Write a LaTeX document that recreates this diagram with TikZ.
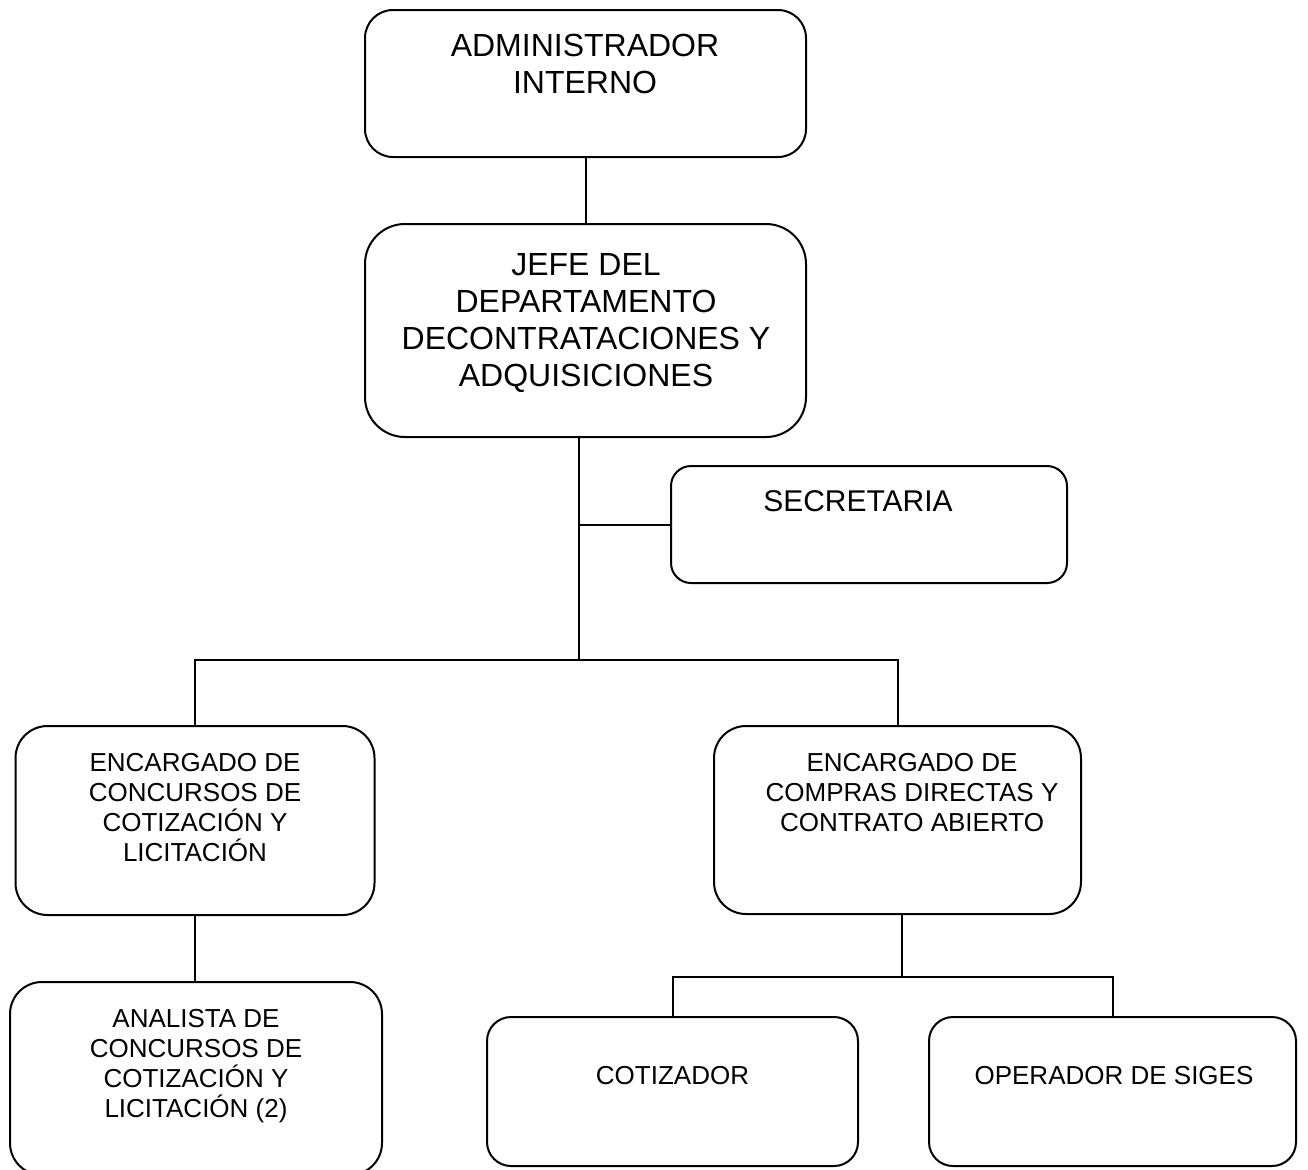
\documentclass[tikz,border=0pt]{standalone}
\usepackage{fontspec}
\setmainfont{Liberation Sans}
\begin{document}
\begin{tikzpicture}[x=0.5pt,y=-0.5pt,line width=1pt,
  box/.style={draw,inner sep=0pt},
  bigtxt/.style={font=\fontsize{16}{18.5}\selectfont,align=center,anchor=north,inner sep=0pt},
  smalltxt/.style={font=\fontsize{13}{15}\selectfont,align=center,anchor=north,inner sep=0pt}]
   \useasboundingbox (0,0) rectangle (1308,1169);
   % boxes
   \node[box,rounded corners=14pt,minimum width=220.5pt,minimum height=73.5pt] (admin) at (585.5,83.5) {};
   \node[bigtxt] (admintxt) at (585,33) {ADMINISTRADOR\\INTERNO};
   \node[box,rounded corners=20pt,minimum width=220.5pt,minimum height=106.5pt] (jefe) at (585.5,330.5) {};
   \node[bigtxt] (jefetxt) at (586,252) {JEFE DEL\\DEPARTAMENTO\\DECONTRATACIONES Y\\ADQUISICIONES};
   \node[box,rounded corners=10pt,minimum width=198pt,minimum height=58.5pt] (sec) at (869,524.5) {};
   \node[bigtxt,font=\fontsize{15}{18}\selectfont] (sectxt) at (858,490) {SECRETARIA};
   \node[box,rounded corners=16pt,minimum width=179.5pt,minimum height=94.5pt] (encL) at (195,820.5) {};
   \node[smalltxt] (encLtxt) at (195,752) {ENCARGADO DE\\CONCURSOS DE\\COTIZACIÓN Y\\LICITACIÓN};
   \node[box,rounded corners=16pt,minimum width=183.5pt,minimum height=94pt] (encR) at (897.5,820) {};
   \node[smalltxt] (encRtxt) at (912,752) {ENCARGADO DE\\COMPRAS DIRECTAS Y\\CONTRATO ABIERTO};
   \node[box,rounded corners=16pt,minimum width=186pt,minimum height=96.5pt] (anal) at (196,1078.5) {};
   \node[smalltxt] (analtxt) at (196,1008) {ANALISTA DE\\CONCURSOS DE\\COTIZACIÓN Y\\LICITACIÓN (2)};
   \node[box,rounded corners=12pt,minimum width=185.5pt,minimum height=74.5pt] (cot) at (672.5,1091.5) {};
   \node[smalltxt] (cottxt) at (672.5,1065) {COTIZADOR};
   \node[box,rounded corners=12pt,minimum width=183.5pt,minimum height=74.5pt] (oper) at (1112.5,1091.5) {};
   \node[smalltxt] (opertxt) at (1114,1065) {OPERADOR DE SIGES};
   % lines
   \coordinate (busA) at (579,660);
   \coordinate (busB) at (902,977);
   \draw (admin.south) -- (jefe.north);
   \draw (jefe.south -| busA) -- (busA);
   \draw (sec.west) -- (sec.west -| busA);
   \draw (encL.north) |- (busA) -| (encR.north);
   \draw (encL.south) -- (encL.south |- anal.north);
   \draw (encR.south -| busB) -- (busB);
   \draw (cot.north) |- (busB) -| (oper.north);
\end{tikzpicture}
\end{document}
